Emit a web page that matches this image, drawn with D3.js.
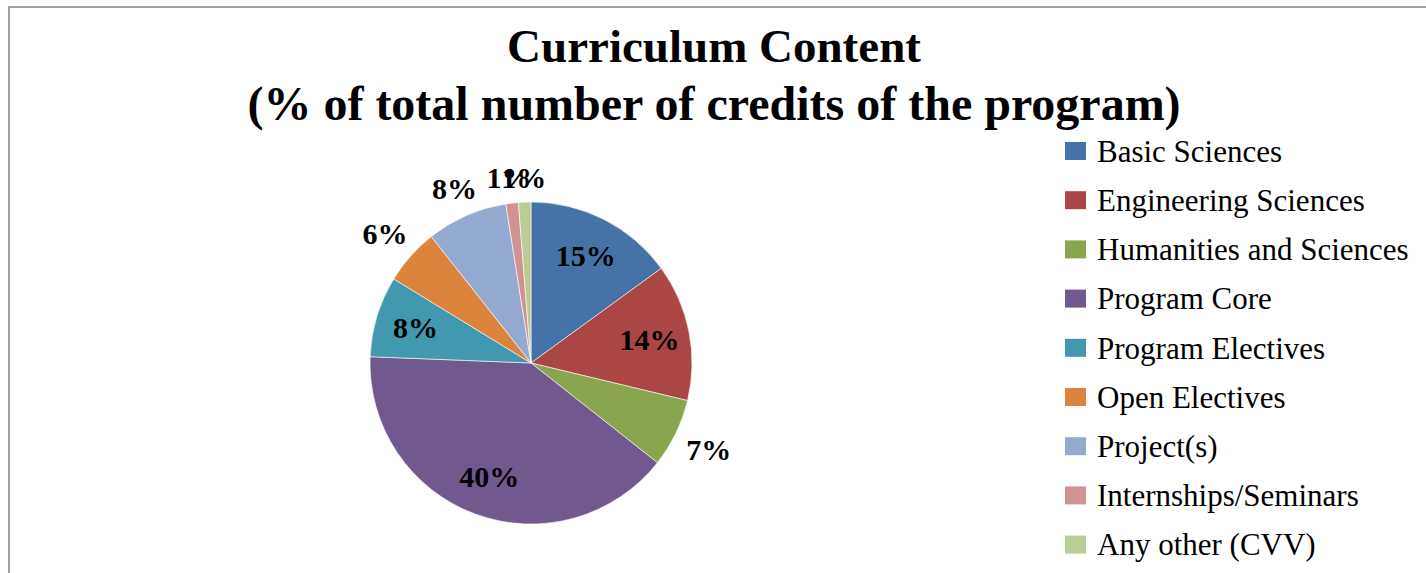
<!DOCTYPE html>
<html lang="en">
<head>
    <meta charset="UTF-8">
    <title>Curriculum Content</title>
    <script src="https://d3js.org/d3.v7.min.js"></script>
    <style>
        body {
            margin: 0;
            background: #fff;
            font-family: "Liberation Serif", "Times New Roman", serif;
        }
    </style>
</head>
<body>
    <div id="chart"></div>

    <script>
        // credits per category (total 160)
        const categories = [
            'Basic Sciences',
            'Engineering Sciences',
            'Humanities and Sciences',
            'Program Core',
            'Program Electives',
            'Open Electives',
            'Project(s)',
            'Internships/Seminars',
            'Any other (CVV)'
        ];
        const credits = [24, 22, 11, 64, 13, 9, 13, 2, 2];
        const labelInside = [true, true, false, true, true, false, false, false, false];
        const titleLines = ['Curriculum Content', '(% of total number of credits of the program)'];
        const colors = ['#4572A7', '#AA4643', '#89A54E', '#71588F', '#4198AF',
                        '#DB843D', '#93A9CF', '#D19392', '#B9CD96'];

        const width = 1426, height = 573;
        const cx = 531, cy = 363, radius = 161;

        const svg = d3.select('#chart')
            .append('svg')
            .attr('width', width)
            .attr('height', height);

        // frame of the chart area
        svg.append('rect')
            .attr('x', 9)
            .attr('y', 7)
            .attr('width', width + 20)
            .attr('height', height + 20)
            .attr('fill', 'none')
            .attr('stroke', '#a0a0a0')
            .attr('stroke-width', 2);

        svg.selectAll('.title')
            .data(titleLines)
            .enter()
            .append('text')
            .attr('class', 'title')
            .attr('x', 714)
            .attr('y', (d, i) => 62 + i * 58)
            .attr('text-anchor', 'middle')
            .style('font-size', (d, i) => i === 0 ? '47px' : '48px')
            .style('font-weight', 'bold')
            .text(d => d);

        const total = d3.sum(credits);
        const data = categories.map((c, i) => ({ name: c, value: credits[i], inside: labelInside[i] }));

        const color = d3.scaleOrdinal()
            .domain(categories)
            .range(colors);

        const pie = d3.pie()
            .value(d => d.value)
            .sort(null);

        const arc = d3.arc()
            .innerRadius(0)
            .outerRadius(radius);

        const inArc = d3.arc()
            .innerRadius(radius * 0.75)
            .outerRadius(radius * 0.75);

        const g = svg.append('g')
            .attr('transform', `translate(${cx},${cy})`);

        const pieData = pie(data);

        g.selectAll('path')
            .data(pieData)
            .enter()
            .append('path')
            .attr('d', arc)
            .attr('fill', d => color(d.data.name))
            .attr('stroke', '#fff')
            .attr('stroke-width', 0.6);

        // outside labels sit a bit further out when they lie to the side
        function outPos(d) {
            const a = (d.startAngle + d.endAngle) / 2;
            const r = radius + 24 + 14 * Math.abs(Math.sin(a));
            return [r * Math.sin(a), -r * Math.cos(a)];
        }

        g.selectAll('.lbl')
            .data(pieData)
            .enter()
            .append('text')
            .attr('class', 'lbl')
            .attr('transform', d => {
                const p = d.data.inside ? inArc.centroid(d) : outPos(d);
                return `translate(${p[0]},${p[1]})`;
            })
            .attr('text-anchor', 'middle')
            .attr('dy', '.35em')
            .style('font-size', '30px')
            .style('font-weight', 'bold')
            .style('fill', '#000')
            .text(d => Math.round(d.data.value / total * 100) + '%');

        // legend
        const legend = svg.selectAll('.legend')
            .data(categories)
            .enter()
            .append('g')
            .attr('class', 'legend')
            .attr('transform', (d, i) => `translate(1065,${151 + i * 49.2})`);

        legend.append('rect')
            .attr('x', 0)
            .attr('y', -9)
            .attr('width', 21)
            .attr('height', 18)
            .attr('fill', d => color(d));

        legend.append('text')
            .attr('x', 32)
            .attr('y', 0)
            .attr('dy', '.35em')
            .style('font-size', '31px')
            .style('fill', '#000')
            .text(d => d);
    </script>
</body>
</html>
